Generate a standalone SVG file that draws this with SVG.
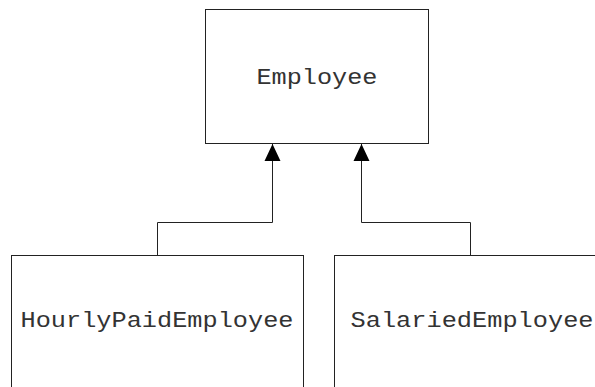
<svg xmlns="http://www.w3.org/2000/svg" width="595" height="387" viewBox="0 0 595 387">
<style>
.box{fill:#fff;stroke:#222;stroke-width:1}
.lbl{font-family:"Liberation Mono","Courier New",monospace;font-size:22px;fill:#333;text-anchor:middle}
.conn{fill:none;stroke:#222;stroke-width:1}
</style>
<defs>
<marker id="tri" markerWidth="16" markerHeight="17" refX="8" refY="0" orient="0" markerUnits="userSpaceOnUse" viewBox="0 0 16 17" overflow="visible">
<path d="M8,0 L16,17 L0,17 Z" fill="#000"/>
</marker>
</defs>
<rect width="595" height="387" fill="#fff"/>
<g id="Employee">
<rect class="box" x="205.5" y="9.5" width="223" height="134"/>
<text class="lbl" x="317" y="84" textLength="121" lengthAdjust="spacingAndGlyphs">Employee</text>
</g>
<g id="HourlyPaidEmployee">
<rect class="box" x="11.5" y="255.5" width="292" height="140"/>
<text class="lbl" x="157" y="327" textLength="273" lengthAdjust="spacingAndGlyphs">HourlyPaidEmployee</text>
</g>
<g id="SalariedEmployee">
<rect class="box" x="334.5" y="255.5" width="272" height="140"/>
<text class="lbl" x="472" y="327" textLength="243" lengthAdjust="spacingAndGlyphs">SalariedEmployee</text>
</g>
<g id="connectors">
<path class="conn" d="M157.5,255 V222.5 H272.5 V144" marker-end="url(#tri)"/>
<path class="conn" d="M470.5,255 V222.5 H361.5 V144" marker-end="url(#tri)"/>
</g>
</svg>
